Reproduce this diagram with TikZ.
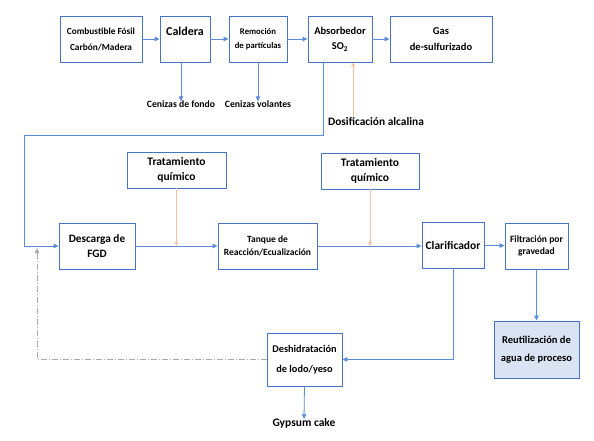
\documentclass[tikz,border=0pt]{standalone}
\usepackage{fontspec}
\setmainfont{Carlito}
\usetikzlibrary{arrows.meta}

\definecolor{boxblue}{HTML}{4472C4}
\definecolor{lineblue}{HTML}{5B8BDB}
\definecolor{doseorange}{HTML}{F8C0A0}
\definecolor{reusefill}{HTML}{DAE3F3}

\begin{document}
\begin{tikzpicture}[x=1pt, y=-1pt,
    box/.style={draw=boxblue, line width=0.9pt, align=center, inner sep=1pt},
    flow/.style={draw=lineblue, line width=0.8pt, -{Triangle[length=5pt,width=4.5pt]}},
    dose/.style={draw=doseorange, line width=0.7pt, -{Triangle[length=4pt,width=4pt]}},
    back/.style={draw=gray!65, line width=0.8pt, dash pattern=on 6pt off 2pt on 1pt off 2pt,
      -{Triangle[length=5pt,width=4.5pt]}},
    outtext/.style={inner sep=2pt}]
  \useasboundingbox (0,0) rectangle (594,440);

  \node[box, minimum width=82pt, minimum height=46pt,
    font=\bfseries\fontsize{9.3}{16}\selectfont] (fuel) at (101,39)
    {Combustible Fósil\\Carbón/Madera};
  \node[box, minimum width=50pt, minimum height=46pt, text depth=16pt,
    font=\bfseries\fontsize{12}{14}\selectfont] (boiler) at (185,39) {Caldera};
  \node[box, minimum width=58pt, minimum height=46pt,
    font=\bfseries\fontsize{8.7}{14}\selectfont] (removal) at (258,39)
    {Remoción\\de partículas};
  \node[box, minimum width=64pt, minimum height=46pt,
    font=\bfseries\fontsize{10.5}{15}\selectfont] (absorber) at (340,39)
    {Absorbedor\\SO\textsubscript{2}};
  \node[box, minimum width=102pt, minimum height=46pt,
    font=\bfseries\fontsize{10.5}{16}\selectfont] (cleangas) at (441,39)
    {Gas\\de-sulfurizado};

  \node[outtext, font=\bfseries\fontsize{9.7}{11}\selectfont] (bottomash) at (181,104) {Cenizas de fondo};
  \node[outtext, font=\bfseries\fontsize{9.7}{11}\selectfont] (flyash) at (258,104) {Cenizas volantes};
  \node[outtext, font=\bfseries\fontsize{11.4}{13}\selectfont] (alkali) at (376,122) {Dosificación alcalina};

  \node[box, minimum width=99pt, minimum height=36pt,
    font=\bfseries\fontsize{11.5}{15}\selectfont] (chem1) at (176.5,170)
    {Tratamiento\\químico};
  \node[box, minimum width=98pt, minimum height=36pt,
    font=\bfseries\fontsize{11.5}{15}\selectfont] (chem2) at (370,171)
    {Tratamiento\\químico};

  \node[box, minimum width=76pt, minimum height=46pt,
    font=\bfseries\fontsize{11.3}{14.5}\selectfont] (purge) at (97,246)
    {Descarga de\\FGD};
  \node[box, minimum width=99pt, minimum height=46pt,
    font=\bfseries\fontsize{9.5}{13}\selectfont] (tank) at (267.5,246)
    {Tanque de\\Reacción/Ecualización};
  \node[box, minimum width=62pt, minimum height=46pt,
    font=\bfseries\fontsize{11.5}{13}\selectfont] (clarifier) at (453,245) {Clarificador};
  \node[box, minimum width=63pt, minimum height=46pt,
    font=\bfseries\fontsize{9.6}{11.5}\selectfont] (filter) at (536.5,246)
    {Filtración por\\gravedad};

  \node[box, fill=reusefill, minimum width=85pt, minimum height=57pt,
    font=\bfseries\fontsize{10.5}{18}\selectfont] (reuse) at (536.5,349.5)
    {Reutilización de\\agua de proceso};
  \node[box, minimum width=75pt, minimum height=53pt,
    font=\bfseries\fontsize{10.3}{19.5}\selectfont] (dewater) at (304.5,359.5)
    {Deshidratación\\de lodo/yeso};
  \node[outtext, font=\bfseries\fontsize{11.5}{13}\selectfont] (gypsum) at (304,423) {Gypsum cake};

  \coordinate (loop) at (24,135);
  \coordinate (recycle) at (37,248);

  \draw[flow] (fuel) -- (boiler);
  \draw[flow] (boiler) -- (removal);
  \draw[flow] (removal) -- (absorber);
  \draw[flow] (absorber) -- (cleangas);
  \draw[flow] (bottomash.north |- boiler.south) -- ([yshift=-3pt]bottomash.north);
  \draw[flow] (removal.south -| flyash.north) -- ([yshift=-3pt]flyash.north);
  \draw[dose] ([xshift=13pt]absorber.south |- alkali.north) -- ([xshift=13pt]absorber.south);
  \draw[flow] ([xshift=-17pt]absorber.south) |- (loop) |- (purge.west);
  \draw[flow] (purge) -- (tank);
  \draw[flow] (tank) -- (clarifier.west |- tank.east);
  \draw[flow] (clarifier) -- (filter);
  \draw[dose] (chem1.south) -- (chem1.south |- purge.east);
  \draw[dose] (chem2.south) -- (chem2.south |- tank.east);
  \draw[flow] (filter) -- (reuse);
  \draw[flow] (clarifier.south) |- (dewater.east);
  \draw[flow] (dewater.south) -- ([yshift=-3pt]gypsum.north);
  \draw[back] (dewater.west) -| (recycle);
\end{tikzpicture}
\end{document}
